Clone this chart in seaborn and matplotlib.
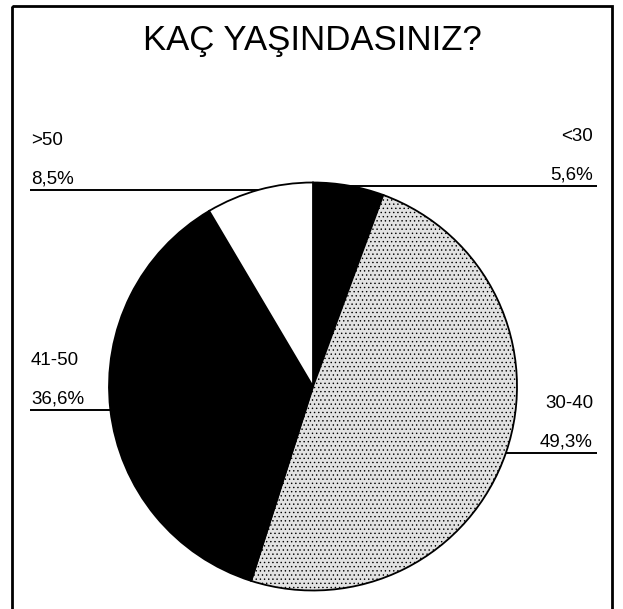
import matplotlib
matplotlib.use("Agg")
import matplotlib.pyplot as plt
import matplotlib.patches as mpatches
import seaborn as sns
import numpy as np

title = "KAÇ YAŞINDASINIZ?"
categories = ["<30", "30-40", "41-50", ">50"]
percent_labels = ["5,6%", "49,3%", "36,6%", "8,5%"]
values = [5.6, 49.3, 36.6, 8.5]
colors = ["black", "#e2e2e2", "black", "white"]
hatches = [None, "....", None, None]

sns.set_theme(style="white")
plt.rcParams['font.family'] = ['Liberation Sans', 'DejaVu Sans']
plt.rcParams['hatch.linewidth'] = 0.5

W, H = 623, 609
fig = plt.figure(figsize=(W / 100, H / 100), dpi=100)
fig.patch.set_facecolor('white')
over = fig.add_axes([0, 0, 1, 1])
over.set_xlim(0, W)
over.set_ylim(H, 0)
over.axis('off')

cx, cy, r = 313, 386.5, 204
pie_ax = fig.add_axes([(cx - r) / W, (H - cy - r) / H, 2 * r / W, 2 * r / H])
wedges, _ = pie_ax.pie(values, colors=colors, startangle=90, counterclock=False,
                       radius=1, wedgeprops=dict(edgecolor='black', linewidth=1.3))
pie_ax.set_xlim(-1, 1)
pie_ax.set_ylim(-1, 1)
for w, h in zip(wedges, hatches):
    if h:
        w.set_hatch(h)

fig.canvas.draw()
to_over = pie_ax.transData + over.transData.inverted()
for w, cat, pct in zip(wedges, categories, percent_labels):
    th = np.deg2rad((w.theta1 + w.theta2) / 2)
    px, py = to_over.transform((np.cos(th), np.sin(th)))
    if px > cx:
        x_end, tx, ha = 597, 593, 'right'
    else:
        x_end, tx, ha = 30, 31, 'left'
    over.plot([px, x_end], [py, py], color='black', lw=1.4, solid_capstyle='butt')
    over.text(tx, py - 6, pct, ha=ha, va='baseline', fontsize=13.5, color='black')
    over.text(tx, py - 45, cat, ha=ha, va='baseline', fontsize=13.5, color='black')

over.text(312, 50, title, ha='center', va='baseline', fontsize=25, color='black')
over.add_patch(mpatches.Rectangle((12, 6), 600, 700, fill=False, edgecolor='black', lw=2))

fig.savefig("out.png", dpi=100, facecolor='white')
